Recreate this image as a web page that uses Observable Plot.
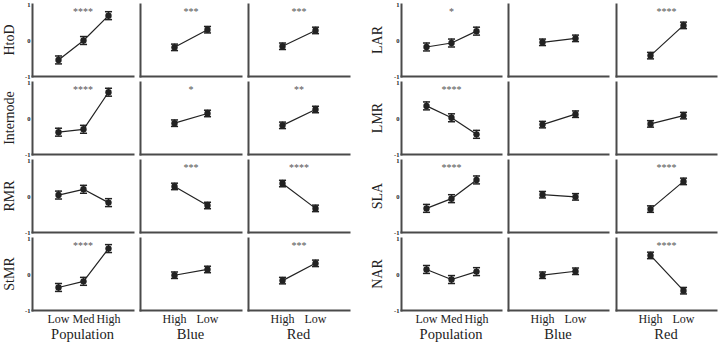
<!DOCTYPE html>
<html><head><meta charset="utf-8">
<script src="https://cdn.jsdelivr.net/npm/d3@7"></script>
<script src="https://cdn.jsdelivr.net/npm/@observablehq/plot@0.6"></script>
<style>
body{margin:0;background:#fff;}
#chart{position:relative;width:720px;height:343px;overflow:hidden;background:#fff;font-family:"Liberation Serif","Times New Roman",serif;color:#222;}
#chart svg{position:absolute;}
.rowlab{position:absolute;font-size:14px;transform:translate(-50%,-50%) rotate(-90deg);white-space:nowrap;line-height:1;}
.collab{position:absolute;font-size:14.5px;transform:translate(-50%,-50%);white-space:nowrap;line-height:1;}
</style></head><body><div id="chart"></div>
<script>
// ---- data ----
const factors = ["Population", "Blue", "Red"];
const popLevels = ["Low", "Med", "High"];
const lightLevels = ["High", "Low"];
const traitsLeft = ["HtoD", "Internode", "RMR", "StMR"];
const traitsRight = ["LAR", "LMR", "SLA", "NAR"];
const yTicks = [-1, 0, 1];
// values order: Pop Low, Pop Med, Pop High, Blue High, Blue Low, Red High, Red Low
const HtoD      = [-0.54, 0.00, 0.69, -0.19, 0.30, -0.16, 0.28];
const Internode = [-0.38, -0.30, 0.73, -0.13, 0.14, -0.19, 0.25];
const RMR       = [0.04, 0.20, -0.17, 0.28, -0.25, 0.36, -0.33];
const StMR      = [-0.36, -0.19, 0.72, -0.02, 0.14, -0.17, 0.31];
const LAR       = [-0.18, -0.07, 0.26, -0.05, 0.06, -0.42, 0.42];
const LMR       = [0.35, 0.02, -0.44, -0.17, 0.12, -0.15, 0.08];
const SLA       = [-0.33, -0.06, 0.46, 0.05, -0.01, -0.35, 0.42];
const NAR       = [0.14, -0.14, 0.08, -0.02, 0.09, 0.53, -0.45];
// standard errors, same order
const HtoD_se      = [0.11, 0.11, 0.11, 0.09, 0.09, 0.09, 0.09];
const Internode_se = [0.11, 0.11, 0.11, 0.09, 0.09, 0.09, 0.09];
const RMR_se       = [0.11, 0.11, 0.11, 0.09, 0.09, 0.09, 0.09];
const StMR_se      = [0.11, 0.11, 0.11, 0.09, 0.09, 0.09, 0.09];
const LAR_se       = [0.11, 0.11, 0.11, 0.09, 0.09, 0.09, 0.09];
const LMR_se       = [0.11, 0.11, 0.11, 0.09, 0.09, 0.09, 0.09];
const SLA_se       = [0.11, 0.11, 0.11, 0.09, 0.09, 0.09, 0.09];
const NAR_se       = [0.11, 0.11, 0.11, 0.09, 0.09, 0.09, 0.09];
// significance labels per factor: Population, Blue, Red
const HtoD_sig      = ["****", "***", "***"];
const Internode_sig = ["****", "*", "**"];
const RMR_sig       = ["", "***", "****"];
const StMR_sig      = ["****", "", "***"];
const LAR_sig       = ["*", "", "****"];
const LMR_sig       = ["****", "", ""];
const SLA_sig       = ["****", "", "****"];
const NAR_sig       = ["", "", "****"];

const table = {
  HtoD: [HtoD, HtoD_se, HtoD_sig], Internode: [Internode, Internode_se, Internode_sig],
  RMR: [RMR, RMR_se, RMR_sig], StMR: [StMR, StMR_se, StMR_sig],
  LAR: [LAR, LAR_se, LAR_sig], LMR: [LMR, LMR_se, LMR_sig],
  SLA: [SLA, SLA_se, SLA_sig], NAR: [NAR, NAR_se, NAR_sig]
};

// ---- layout ----
const chart = document.getElementById("chart");
const rowTops = [4, 82, 160, 238];
const PH = 72;
const halves = [
  {traits: traitsLeft, cols: [32, 140, 248], widths: [101, 101, 101], labX: 10},
  {traits: traitsRight, cols: [401, 508, 616], widths: [100, 100, 100], labX: 378}
];
const ink = "#222";
const axisInk = "#4a4a4a";
const cap = {draw(ctx, size) { const w = Math.sqrt(size); ctx.moveTo(-w / 2, 0); ctx.lineTo(w / 2, 0); }};

function panel(trait, fi, leftCol, bottom, W) {
  const [vals, ses, sigs] = table[trait];
  const levels = fi === 0 ? popLevels : lightLevels;
  const off = fi === 0 ? 0 : (fi === 1 ? 3 : 5);
  const data = levels.map((lv, i) => ({level: lv, mean: vals[off + i], se: ses[off + i]}));
  const sig = sigs[fi];
  const ml = 16, mr = 4, mt = 6, mb = bottom ? 22 : 4;
  const svg = Plot.plot({
    width: ml + W + mr, height: mt + PH + mb,
    marginLeft: ml, marginRight: mr, marginTop: mt, marginBottom: mb,
    x: {type: "point", domain: levels, padding: 1, axis: null},
    y: {domain: [-1, 1], axis: null},
    style: {fontFamily: "'Liberation Serif','Times New Roman',serif", color: ink, background: "transparent", overflow: "visible"},
    marks: [
      leftCol ? Plot.axisY({ticks: yTicks, tickSize: 0, tickPadding: 2, fontSize: 6.5, fontWeight: "bold", label: null, tickFormat: d => String(d)}) : null,
      bottom ? Plot.axisX({tickSize: 0, tickPadding: 4, fontSize: 12, label: null}) : null,
      Plot.frame({anchor: "bottom", stroke: axisInk, strokeWidth: 2}),
      Plot.frame({anchor: "left", stroke: axisInk, strokeWidth: 2}),
      Plot.ruleX(data, {x: "level", y1: d => d.mean - d.se, y2: d => d.mean + d.se, stroke: ink, strokeWidth: 1.3}),
      Plot.dot(data, {x: "level", y: d => d.mean + d.se, symbol: cap, r: 4, stroke: ink, fill: "none", strokeWidth: 1.5}),
      Plot.dot(data, {x: "level", y: d => d.mean - d.se, symbol: cap, r: 4, stroke: ink, fill: "none", strokeWidth: 1.5}),
      Plot.line(data, {x: "level", y: "mean", stroke: ink, strokeWidth: 1.2}),
      Plot.dot(data, {x: "level", y: "mean", r: 3.2, fill: ink}),
      sig ? Plot.text([sig], {frameAnchor: "top", lineAnchor: "top", dy: 3, text: d => d, fontSize: 10, fill: "#555"}) : null
    ]
  });
  return {svg, ml, mt};
}

halves.forEach(h => {
  h.traits.forEach((trait, ri) => {
    factors.forEach((f, fi) => {
      const {svg, ml, mt} = panel(trait, fi, fi === 0, ri === 3, h.widths[fi]);
      svg.style.left = (h.cols[fi] - ml) + "px";
      svg.style.top = (rowTops[ri] - mt) + "px";
      chart.appendChild(svg);
    });
    const lab = document.createElement("div");
    lab.className = "rowlab";
    lab.textContent = trait;
    lab.style.left = h.labX + "px";
    lab.style.top = (rowTops[ri] + PH / 2) + "px";
    chart.appendChild(lab);
  });
  factors.forEach((f, fi) => {
    const c = document.createElement("div");
    c.className = "collab";
    c.textContent = f;
    c.style.left = (h.cols[fi] + h.widths[fi] / 2) + "px";
    c.style.top = "334px";
    chart.appendChild(c);
  });
});
</script></body></html>
